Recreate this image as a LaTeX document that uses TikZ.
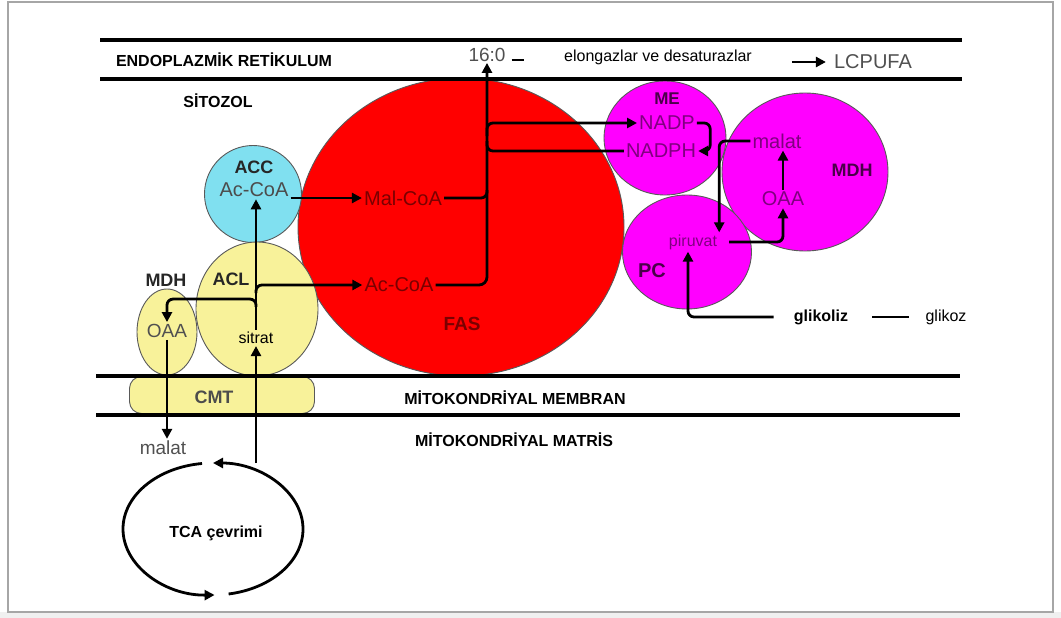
\documentclass[tikz,border=0pt]{standalone}
\usepackage{fontspec}
\setmainfont{Liberation Sans}
\usetikzlibrary{arrows.meta,shapes.geometric}
\definecolor{magc}{HTML}{FF00FF}
\definecolor{cyanc}{HTML}{80E0F0}
\definecolor{yelc}{HTML}{F8F29A}
\definecolor{purp}{HTML}{800080}
\definecolor{dpurp}{HTML}{4A004A}
\definecolor{maroonc}{HTML}{7A0000}
\definecolor{txtgray}{HTML}{505050}
\begin{document}
\begin{tikzpicture}[x=1pt,y=-1pt,
  ln/.style={line width=2.8pt, rounded corners=6pt},
  arr/.style={ln, -{Triangle[length=10pt,width=10pt]}},
  memb/.style={line width=3.2pt},
  ell/.style={ellipse, draw=black!65, line width=0.9pt, inner sep=0pt},
  t16/.style={font=\fontsize{16}{18}\selectfont, inner sep=2pt},
  b16/.style={font=\fontsize{16}{18}\selectfont\bfseries, inner sep=2pt},
  t19/.style={font=\fontsize{19}{21}\selectfont, inner sep=2pt},
  t20/.style={font=\fontsize{20}{22}\selectfont, inner sep=2pt},
  b18/.style={font=\fontsize{18}{20}\selectfont\bfseries, inner sep=2pt},
]
\useasboundingbox (0,0) rectangle (1061,618);
\fill[gray!12] (0,612) rectangle (1061,618);
\draw[gray!70, line width=2pt] (8,2) rectangle (1053,612);

% compartments / enzymes
\node[ell, fill=red, minimum width=326pt, minimum height=298pt] (fas) at (461,227) {};
\node[ell, fill=cyanc, minimum width=97pt, minimum height=97pt] (acc) at (253,194) {};
\node[ell, fill=yelc, minimum width=122pt, minimum height=134pt] (acl) at (257,309) {};
\node[ell, fill=yelc, minimum width=60pt, minimum height=86pt] (mdhc) at (167,332) {};
\node[draw=black!65, fill=yelc, rounded corners=12pt, minimum width=185pt, minimum height=37pt, line width=0.9pt] (cmt) at (222,395) {};
\node[ell, fill=magc, minimum width=166pt, minimum height=158pt] (mdhr) at (805,172) {};
\node[ell, fill=magc, minimum width=129pt, minimum height=114pt] (pc) at (687,252) {};
\node[ell, fill=magc, minimum width=122pt, minimum height=114pt] (me) at (665,138) {};

% membranes
\draw[memb] (100,40) -- (962,40);
\draw[memb] (100,79) -- (962,79);
\draw[memb] (96,376) -- (960,376);
\draw[memb] (96,415) -- (960,415);

% labels
\node[b16] (er) at (224,60) {ENDOPLAZMİK RETİKULUM};
\node[b16] (sito) at (218,101) {SİTOZOL};
\node[t19, text=txtgray, inner sep=1pt] (n160) at (487,55) {16:0};
\node[t16] (elong) at (658,57) {elongazlar ve desaturazlar};
\node[t20, text=txtgray] (lcpufa) at (873,62) {LCPUFA};

\node[b18, text=black!85] (accL) at (254,167) {ACC};
\node[t20, text=black!70] (acoa1) at (254,190) {Ac-CoA};
\node[b18, text=black!85] (aclL) at (231,279) {ACL};
\node[t16] (sitrat) at (256,338) {sitrat};
\node[b18, text=black!85] (mdhL) at (166,280) {MDH};
\node[t19, text=txtgray] (oaa1) at (167,331) {OAA};
\node[b18, text=black!70] (cmtL) at (214,397) {CMT};

\node[t20, text=maroonc] (malcoa) at (403,198) {Mal-CoA};
\node[t20, text=maroonc] (acoaF) at (399,285) {Ac-CoA};
\node[font=\fontsize{19}{21}\selectfont\bfseries, text=maroonc] (fasL) at (462,324) {FAS};

\node[font=\fontsize{17}{19}\selectfont\bfseries, text=dpurp] (meL) at (667,99) {ME};
\node[t20, text=purp] (nadp) at (667,123) {NADP};
\node[t20, text=purp] (nadph) at (661,151) {NADPH};
\node[t20, text=purp] (malat2) at (777,141) {malat};
\node[t20, text=purp] (oaa2) at (783,199) {OAA};
\node[b18, text=dpurp] (mdh2L) at (852,170) {MDH};
\node[t16, text=purp] (piruvat) at (693,242) {piruvat};
\node[font=\fontsize{20}{22}\selectfont\bfseries, text=dpurp] (pcL) at (652,271) {PC};
\node[b16] (glikoliz) at (821,317) {glikoliz};
\node[t16] (glikoz) at (946,317) {glikoz};

\node[b16] (membran) at (515,398) {MİTOKONDRİYAL MEMBRAN};
\node[b16] (matris) at (514,440) {MİTOKONDRİYAL MATRİS};
\node[t19, text=txtgray] (malat3) at (163,448) {malat};
\node[b16] (tcaL) at (216,533) {TCA çevrimi};

% ER row connectors
\draw[ln] ([shift={(5pt,-5pt)}]n160.east) -- ++(12,0);
\draw[arr] ([xshift=-40pt]lcpufa.west) -- ([xshift=-6pt]lcpufa.west);

% cytosol left
\draw[arr] (acoa1.east |- malcoa.west) -- (malcoa.west);
\draw[ln] (malcoa.east) -| ([yshift=8pt]malcoa.east -| n160.south);
\draw[arr, rounded corners=8pt] (acoaF.east) -| (n160.south);
\draw[arr] ([yshift=-13pt]n160.south |- nadp.west) |- (nadp.west);
\draw[ln] (nadph.west) -| ([yshift=10pt]n160.south |- nadph.west);

\draw[arr] (sitrat.north) -- (sitrat.north |- acoa1.south);
\draw[arr] ([yshift=-8pt]sitrat.north |- acoaF.west) |- (acoaF.west);
\draw[arr] ([yshift=23pt]sitrat.north) |- ([yshift=23pt]oaa1.north) -- (oaa1.north);
\draw[arr] (oaa1.south) -- (oaa1.south |- malat3.north);

% right side
\draw[arr] (nadp.east) -| ([xshift=12pt]nadph.east) -- (nadph.east);
\draw[arr] (malat2.west) -| (piruvat.north east);
\draw[arr] ([xshift=10pt]piruvat.east) -| (oaa2.south);
\draw[arr] (oaa2.north) -- (oaa2.north |- malat2.south);
\draw[arr] ([xshift=-18pt]glikoliz.west) -| ([xshift=-5pt]piruvat.south);
\draw[ln] ([xshift=22pt]glikoliz.east) -- ([xshift=-14pt]glikoz.west);

% TCA cycle
\coordinate (tcac) at (213,529);
\coordinate (tcaout) at (256,463);
\draw[arr] (tcac) ++(263:90 and 66) arc[start angle=263, end angle=89, x radius=90, y radius=66];
\draw[arr] (tcac) ++(80:90 and 66) arc[start angle=80, end angle=-90, x radius=90, y radius=66];
\draw[arr] (tcaout) -- (sitrat.south);
\end{tikzpicture}
\end{document}
